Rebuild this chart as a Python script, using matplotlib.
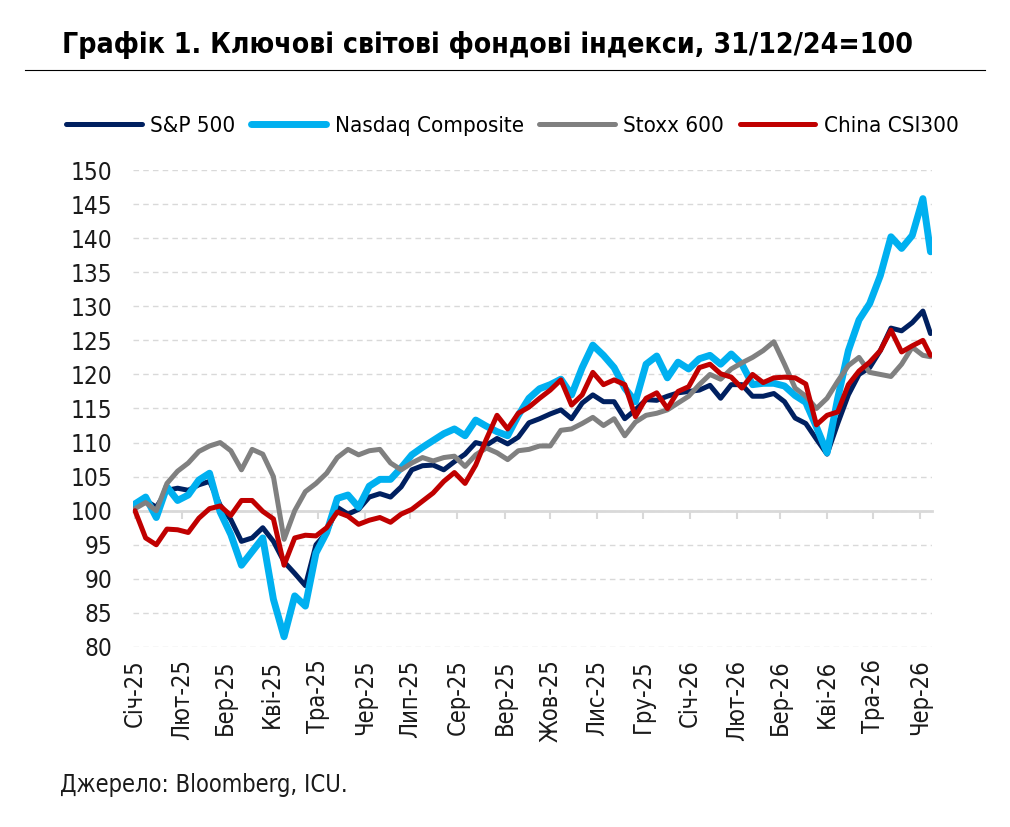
import matplotlib
matplotlib.use("Agg")
import matplotlib.pyplot as plt
import matplotlib.dates as mdates
from matplotlib.lines import Line2D
import pandas as pd

# вузький шрифт з кирилицею
plt.rcParams["font.family"] = ["DejaVu Sans"]
plt.rcParams["font.stretch"] = "condensed"

# дані (тижневі точки, 31/12/24 = 100)
dates = pd.date_range("2025-01-01", periods=75, freq="7D").append(pd.DatetimeIndex(["2026-06-08"]))

sp500 = [100.5, 101.5, 100.5, 103.0, 103.3, 103.0, 103.8, 104.3, 100.8, 98.7,
         95.5, 96.0, 97.5, 95.5, 92.5, 90.8, 89.0, 95.0, 96.8, 100.5,
         99.5, 100.2, 102.0, 102.5, 102.0, 103.5, 106.0, 106.6, 106.7, 106.0,
         107.2, 108.3, 110.0, 109.6, 110.6, 109.8, 110.8, 112.9, 113.5, 114.2,
         114.8, 113.5, 115.8, 117.0, 116.0, 116.0, 113.5, 114.8, 116.3, 116.2,
         116.8, 117.3, 117.5, 117.7, 118.4, 116.5, 118.5, 118.5, 116.8, 116.8,
         117.2, 116.0, 113.6, 112.8, 110.5, 108.3, 112.8, 117.0, 120.0, 121.0,
         123.5, 126.8, 126.4, 127.6, 129.3, 126.0]

nasdaq = [101.0, 102.0, 99.0, 103.5, 101.5, 102.3, 104.5, 105.5, 99.8, 96.5,
          92.0, 94.0, 96.0, 87.0, 81.5, 87.5, 86.0, 93.8, 96.8, 101.8,
          102.3, 100.5, 103.6, 104.6, 104.6, 106.3, 108.2, 109.3, 110.3, 111.3,
          112.0, 111.0, 113.3, 112.4, 111.6, 111.0, 114.0, 116.5, 117.9, 118.5,
          119.3, 117.0, 121.0, 124.3, 122.8, 121.0, 118.0, 116.0, 121.5, 122.7,
          119.5, 121.8, 120.8, 122.3, 122.8, 121.5, 123.0, 121.5, 118.5, 118.7,
          118.7, 118.3, 116.9, 115.9, 112.3, 108.5, 116.5, 123.5, 128.0, 130.4,
          134.5, 140.2, 138.5, 140.4, 145.8, 138.0]

stoxx = [100.3, 101.2, 100.0, 104.0, 105.8, 107.0, 108.7, 109.5, 110.0, 108.8,
         106.0, 109.0, 108.3, 105.0, 95.8, 100.0, 102.8, 104.0, 105.5, 107.8,
         109.0, 108.2, 108.8, 109.0, 107.0, 106.0, 107.0, 107.8, 107.3, 107.8,
         108.0, 106.5, 108.2, 109.2, 108.5, 107.5, 108.8, 109.0, 109.5, 109.5,
         111.8, 112.0, 112.8, 113.7, 112.5, 113.5, 111.0, 113.0, 114.0, 114.3,
         114.8, 115.8, 116.8, 118.5, 120.0, 119.3, 120.8, 121.7, 122.5, 123.5,
         124.8, 121.5, 118.0, 116.8, 115.0, 116.5, 119.0, 121.3, 122.5, 120.3,
         120.0, 119.7, 121.5, 124.0, 122.8, 122.6]

csi300 = [100.0, 96.0, 95.0, 97.3, 97.2, 96.8, 98.9, 100.3, 100.7, 99.3,
          101.5, 101.5, 99.9, 98.8, 92.0, 96.0, 96.4, 96.3, 97.5, 99.8,
          99.2, 98.0, 98.6, 99.0, 98.3, 99.5, 100.2, 101.4, 102.6, 104.3,
          105.6, 104.0, 106.7, 110.5, 114.0, 112.0, 114.3, 115.2, 116.5, 117.7,
          119.2, 115.5, 117.0, 120.3, 118.5, 119.2, 118.5, 113.8, 116.5, 117.3,
          115.0, 117.5, 118.2, 121.0, 121.5, 120.1, 119.6, 118.0, 120.0, 118.8,
          119.5, 119.6, 119.5, 118.6, 112.6, 114.0, 114.5, 118.5, 120.5, 121.8,
          123.5, 126.5, 123.3, 124.2, 125.0, 122.8]

months_ua = ["Січ", "Лют", "Бер", "Кві", "Тра", "Чер", "Лип", "Сер", "Вер", "Жов", "Лис", "Гру"]
tick_dates = pd.date_range("2025-01-01", "2026-06-01", freq="MS")
tick_labels = [f"{months_ua[d.month - 1]}-{d.strftime('%y')}" for d in tick_dates]

# 📈 малюємо
fig = plt.figure(figsize=(10.1, 8.27), dpi=100)
ax = fig.add_axes([0.1317, 0.2177, 0.7911, 0.5767])

series = [
    ("S&P 500", sp500, "#002060", 3.6),
    ("Nasdaq Composite", nasdaq, "#00B0F0", 5.0),
    ("Stoxx 600", stoxx, "#808080", 3.6),
    ("China CSI300", csi300, "#C00000", 3.6),
]
handles = []
for name, vals, color, lw in series:
    ln, = ax.plot(dates, vals, color=color, lw=lw, label=name, zorder=3,
                  solid_joinstyle="round", solid_capstyle="round")
    handles.append(ln)

ax.set_ylim(80, 150)
ax.set_yticks(range(80, 151, 5))
x0 = mdates.date2num(pd.Timestamp("2025-01-01")) - 1.3
x1 = mdates.date2num(pd.Timestamp("2026-06-09"))
ax.set_xlim(x0, x1)

ax.yaxis.grid(True, color="#d9d9d9", linestyle=(0, (4, 3)), lw=1)
ax.set_axisbelow(True)
for s in ["left", "right", "top"]:
    ax.spines[s].set_visible(False)
ax.spines["bottom"].set_position(("data", 100))
ax.spines["bottom"].set_color("#d9d9d9")
ax.spines["bottom"].set_linewidth(2)
ax.spines["bottom"].set_zorder(2)

ax.set_xticks(mdates.date2num(tick_dates))
ax.tick_params(axis="x", length=6, width=1.5, color="#d9d9d9", labelbottom=False)
ax.tick_params(axis="y", length=0, pad=15, labelsize=17.5, labelcolor="#1a1a1a")

sec = ax.secondary_xaxis("bottom")
sec.set_xticks(mdates.date2num(tick_dates))
sec.set_xticklabels(tick_labels, rotation=90)
sec.tick_params(length=0, pad=9, labelsize=17, labelcolor="#1a1a1a")
sec.spines["bottom"].set_visible(False)

# заголовок і лінія
fig.text(0.061, 0.9456, "Графік 1. Ключові світові фондові індекси, 31/12/24=100",
         fontsize=20.3, weight="bold", va="center", ha="left")
fig.add_artist(Line2D([25 / 1010, 985 / 1010], [0.9154, 0.9154], color="black", lw=0.8))

fig.legend(handles=handles, loc="center left", bbox_to_anchor=(66 / 1010, 1 - 126 / 827),
           ncol=4, frameon=False, fontsize=16, handlelength=3.4, handletextpad=0.38,
           columnspacing=0.7, borderaxespad=0, borderpad=0)

fig.text(60 / 1010, 1 - 785 / 827, "Джерело: Bloomberg, ICU.", fontsize=17, va="center",
         color="#1a1a1a")

fig.savefig("out.png", dpi=100)
